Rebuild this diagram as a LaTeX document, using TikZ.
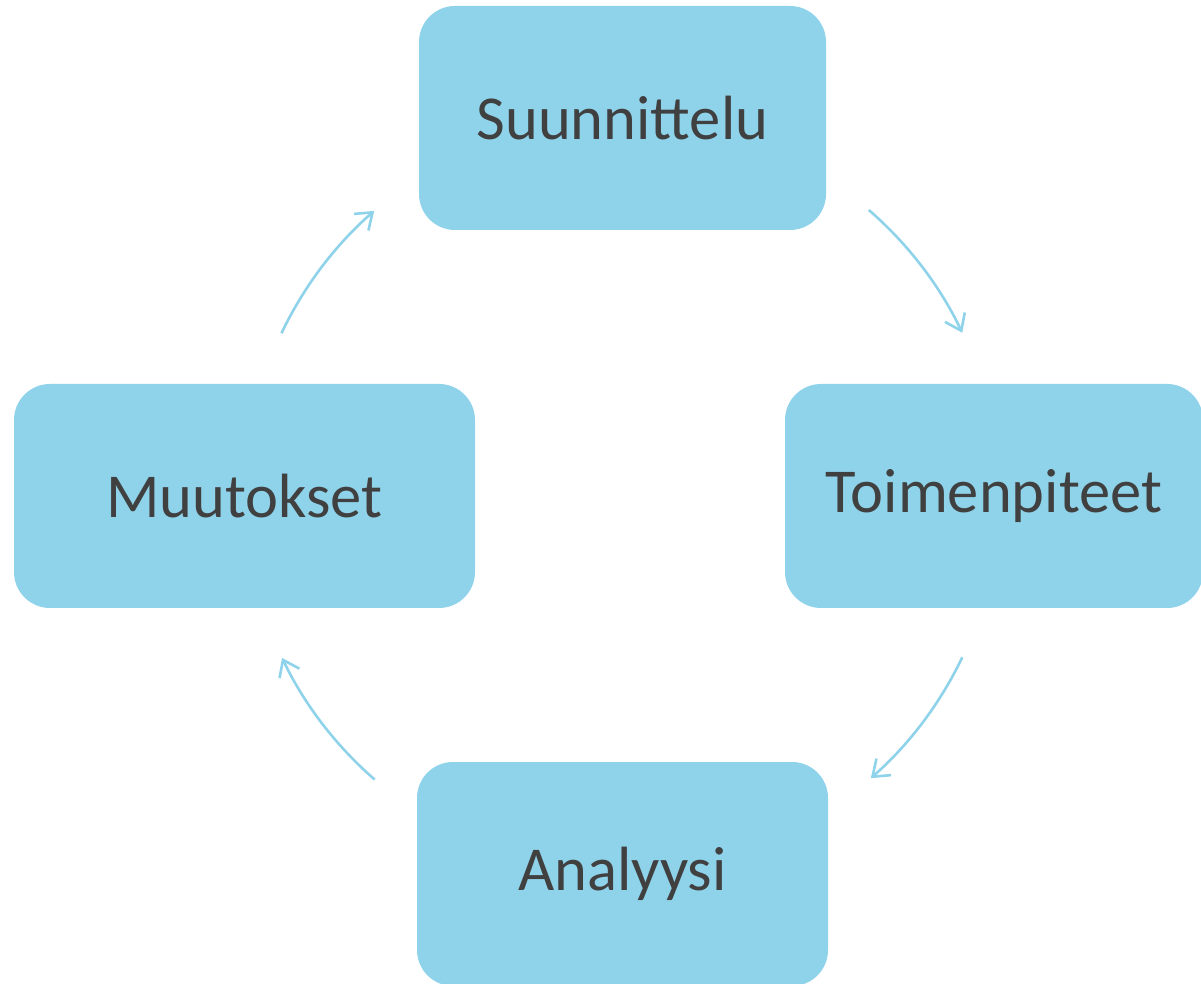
\documentclass[tikz,border=0pt]{standalone}
\usepackage{fontspec}
\setmainfont{Carlito}
\usetikzlibrary{arrows.meta}
\definecolor{boxblue}{RGB}{143,211,234}
\definecolor{txt}{RGB}{64,64,64}
\begin{document}
\begin{tikzpicture}[x=1pt,y=1pt,
  stage/.style={fill=boxblue, rounded corners=36pt, text=txt,
    font=\fontsize{62.5}{75}\selectfont, minimum height=224pt, inner sep=0pt},
  flow/.style={draw=boxblue, line width=2.6pt,
    -{Straight Barb[length=15pt,width=22pt,line width=2.6pt]}}]
\clip (0,0) rectangle (1201,983);
\useasboundingbox (0,0) rectangle (1201,983);
\node[stage, minimum width=407pt] (s) at (622.5,865) {Suunnittelu};
\node[stage, minimum width=418pt] (t) at (994,487) {Toimenpiteet};
\node[stage, minimum width=411pt] (a) at (622.5,109) {Analyysi};
\node[stage, minimum width=461pt] (m) at (244.5,487) {Muutokset};
\coordinate (c) at (622,488);
\path (c) ++(154.6:377) coordinate (a1);
\path (c) ++(49.1:377) coordinate (a2);
\path (c) ++(-25.5:377) coordinate (a3);
\path (c) ++(-131:377) coordinate (a4);
\draw[flow] (a1) arc[start angle=154.6, end angle=131.1, radius=377];
\draw[flow] (a2) arc[start angle=49.1, end angle=25.5, radius=377];
\draw[flow] (a3) arc[start angle=-25.5, end angle=-48.7, radius=377];
\draw[flow] (a4) arc[start angle=-131, end angle=-154.4, radius=377];
\end{tikzpicture}
\end{document}
